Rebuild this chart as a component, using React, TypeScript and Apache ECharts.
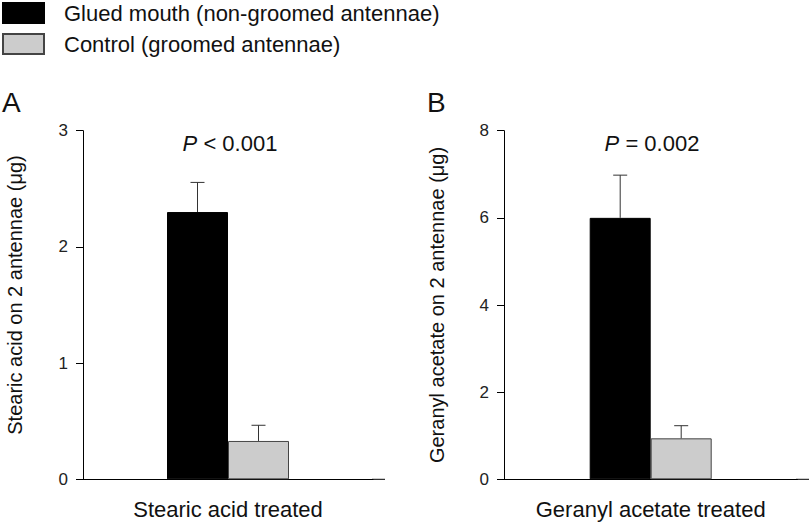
import React, { useEffect, useRef } from "react";
import * as echarts from "echarts";

const nameGlued = "Glued mouth (non-groomed antennae)";
const nameControl = "Control (groomed antennae)";

const categoriesA = ["Stearic acid treated"];
const categoriesB = ["Geranyl acetate treated"];

const gluedA = [2.3];
const gluedA_se = [0.255];
const controlA = [0.33];
const controlA_se = [0.135];

const gluedB = [6.0];
const gluedB_se = [0.98];
const controlB = [0.94];
const controlB_se = [0.29];

const yTicksA = { min: 0, max: 3, interval: 1 };
const yTicksB = { min: 0, max: 8, interval: 2 };

const pTextA = ["P", " < 0.001"];
const pTextB = ["P", " = 0.002"];

const yNameA = "Stearic acid on 2 antennae (μg)";
const yNameB = "Geranyl acetate on 2 antennae (μg)";

const FONT = "Liberation Sans, Arial, sans-serif";
const BAR_W = 61;
const AXIS_Y = 479.3;

function errSeries(values: number[], se: number[], axis: number, side: number) {
  return {
    type: "custom",
    xAxisIndex: axis,
    yAxisIndex: axis,
    z: 5,
    silent: true,
    data: values.map((v, i) => [i, v, se[i]]),
    renderItem: (params: any, api: any) => {
      const cat = api.value(0);
      const v = api.value(1);
      const s = api.value(2);
      const base = api.coord([cat, v]);
      const top = api.coord([cat, v + s]);
      const cx = base[0] + side * BAR_W / 2;
      const style = { stroke: "#333", lineWidth: 1 };
      return {
        type: "group",
        children: [
          { type: "line", shape: { x1: cx, y1: base[1], x2: cx, y2: top[1] }, style },
          { type: "line", shape: { x1: cx - 7, y1: top[1], x2: cx + 7, y2: top[1] }, style },
        ],
      };
    },
  };
}

export default function App() {
  const ref = useRef<HTMLDivElement>(null);
  useEffect(() => {
    if (!ref.current) return;
    const chart = echarts.init(ref.current, undefined, { renderer: "svg" });
    const axisLine = { show: true, lineStyle: { color: "#000", width: 1 } };
    const yAxisCommon = {
      type: "value",
      axisLine,
      axisTick: { show: true, length: 7, lineStyle: { color: "#000" } },
      axisLabel: { fontFamily: FONT, fontSize: 17, color: "#222", margin: 15 },
      splitLine: { show: false },
    };
    const xAxisCommon = {
      type: "category",
      axisLine,
      axisTick: { show: false },
      axisLabel: { fontFamily: FONT, fontSize: 22, color: "#111", margin: 19 },
    };
    const gluedStyle = { color: "#000", borderColor: "#000", borderWidth: 1 };
    const controlStyle = { color: "#cccccc", borderColor: "#444", borderWidth: 1 };
    const pRich = {
      i: { fontFamily: FONT, fontSize: 22, fontStyle: "italic", fill: "#111" },
      n: { fontFamily: FONT, fontSize: 22, fill: "#111" },
    };
    const extStyle = { stroke: "#000", lineWidth: 1 };
    chart.setOption({
      animation: false,
      backgroundColor: "#fff",
      legend: {
        left: 2,
        top: 2,
        padding: 0,
        orient: "vertical",
        itemWidth: 41,
        itemHeight: 20,
        itemGap: 9,
        icon: "rect",
        data: [nameGlued, nameControl],
        textStyle: { fontFamily: FONT, fontSize: 22, color: "#111", padding: [0, 0, 0, 15] },
      },
      grid: [
        { left: 83, right: 437, top: 130.7, bottom: 45.7 },
        { left: 504, right: 12.6, top: 130.7, bottom: 45.7 },
      ],
      xAxis: [
        { ...xAxisCommon, gridIndex: 0, data: categoriesA },
        { ...xAxisCommon, gridIndex: 1, data: categoriesB },
      ],
      yAxis: [
        { ...yAxisCommon, gridIndex: 0, ...yTicksA },
        { ...yAxisCommon, gridIndex: 1, ...yTicksB },
      ],
      series: [
        { type: "bar", name: nameGlued, xAxisIndex: 0, yAxisIndex: 0, data: gluedA, barWidth: BAR_W, barGap: "0%", itemStyle: gluedStyle },
        { type: "bar", name: nameControl, xAxisIndex: 0, yAxisIndex: 0, data: controlA, barWidth: BAR_W, barGap: "0%", itemStyle: controlStyle },
        { type: "bar", name: nameGlued, xAxisIndex: 1, yAxisIndex: 1, data: gluedB, barWidth: BAR_W, barGap: "0%", itemStyle: gluedStyle },
        { type: "bar", name: nameControl, xAxisIndex: 1, yAxisIndex: 1, data: controlB, barWidth: BAR_W, barGap: "0%", itemStyle: controlStyle },
        errSeries(gluedA, gluedA_se, 0, -1),
        errSeries(controlA, controlA_se, 0, 1),
        errSeries(gluedB, gluedB_se, 1, -1),
        errSeries(controlB, controlB_se, 1, 1),
      ],
      graphic: [
        { type: "line", shape: { x1: 372, y1: AXIS_Y, x2: 385, y2: AXIS_Y }, style: extStyle },
        { type: "line", shape: { x1: 796, y1: AXIS_Y, x2: 809, y2: AXIS_Y }, style: extStyle },
        { type: "text", x: 2, y: 102, style: { text: "A", fontFamily: FONT, fontSize: 28, fill: "#111", verticalAlign: "middle" } },
        { type: "text", x: 427, y: 102, style: { text: "B", fontFamily: FONT, fontSize: 28, fill: "#111", verticalAlign: "middle" } },
        {
          type: "text", x: 15, y: 295, rotation: Math.PI / 2,
          style: { text: yNameA, fontFamily: FONT, fontSize: 20, fill: "#111", align: "center", verticalAlign: "middle" },
        },
        {
          type: "text", x: 437, y: 305, rotation: Math.PI / 2,
          style: { text: yNameB, fontFamily: FONT, fontSize: 20, fill: "#111", align: "center", verticalAlign: "middle" },
        },
        {
          type: "text", x: 230, y: 143,
          style: { text: `{i|${pTextA[0]}}{n|${pTextA[1]}}`, align: "center", verticalAlign: "middle", rich: pRich },
        },
        {
          type: "text", x: 652, y: 143,
          style: { text: `{i|${pTextB[0]}}{n|${pTextB[1]}}`, align: "center", verticalAlign: "middle", rich: pRich },
        },
      ],
    });
    return () => chart.dispose();
  }, []);
  return <div ref={ref} style={{ width: 810, height: 525, position: "absolute", left: 0, top: 0 }} />;
}
